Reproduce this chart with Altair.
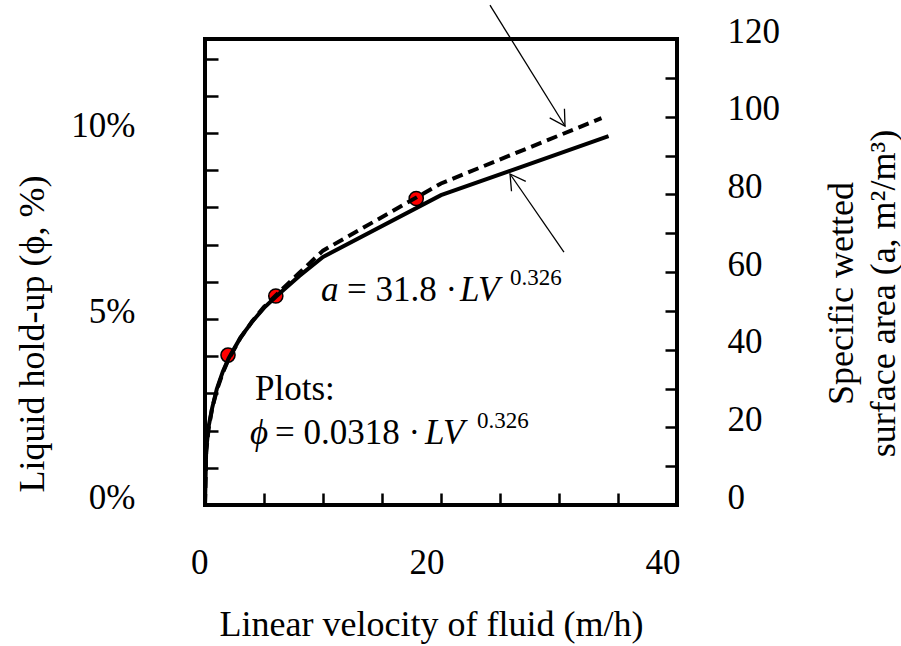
import altair as alt
import pandas as pd

# ---------------- data ----------------
# solid curve: liquid hold-up phi (%) vs linear velocity LV (m/h), left axis
lv_solid = [0, 0.1, 0.3, 0.6, 1, 1.5, 2, 3, 4, 5, 6, 8, 10, 20, 34.2]
phi_solid = [0, 1.48, 2.1, 2.6, 3.12, 3.58, 3.94, 4.5, 4.93, 5.3, 5.6, 6.16, 6.67, 8.33, 9.92]

# dashed curve: specific wetted surface area a (m2/m3), right axis
lv_dashed = [0, 0.1, 0.3, 0.6, 1, 1.5, 2, 3, 4, 5, 6, 8, 10, 20, 33.6]
a_dashed = [0, 13.5, 19.5, 24.8, 29.5, 34.0, 37.5, 43.0, 47.3, 51.0, 54.0, 59.8, 65.5, 82.8, 99.6]

# measured plots (red circles)
lv_plots = [1.95, 6.0, 17.9]
phi_plots = [4.03, 5.62, 8.24]

# tick values
x_ticks = [0, 5, 10, 15, 20, 25, 30, 35, 40]
phi_ticks = [0, 1, 2, 3, 4, 5, 6, 7, 8, 9, 10, 11, 12]
a_ticks = [0, 10, 20, 30, 40, 50, 60, 70, 80, 90, 100, 110, 120]

# annotations (data units: LV, phi %)
arrow_x = [24.15, 30.42]
arrow_y = [13.44, 6.80]
arrow_x2 = [30.51, 25.85]
arrow_y2 = [10.19, 8.90]
arrow_angle = [148, 325]

txt_italic = ["a", "LV", "\u03d5", "LV"]
txt_italic_x = [9.83, 21.6, 3.81, 18.64]
txt_italic_y = [5.484, 5.484, 1.64, 1.64]

txt_regular = ["= 31.8 \u00b7", "Plots:", "= 0.0318 \u00b7"]
txt_regular_x = [12.03, 4.24, 5.93]
txt_regular_y = [5.484, 2.823, 1.64]

txt_sup = ["0.326", "0.326"]
txt_sup_x = [25.85, 23.05]
txt_sup_y = [5.914, 2.07]

FONT = "Liberation Serif"

solid_df = pd.DataFrame({"lv": lv_solid, "phi": phi_solid})
dashed_df = pd.DataFrame({"lv": lv_dashed, "a": a_dashed})
plots_df = pd.DataFrame({"lv": lv_plots, "phi": phi_plots})
arrow_df = pd.DataFrame({"lv": arrow_x, "phi": arrow_y, "x2": arrow_x2, "y2": arrow_y2, "ang": arrow_angle})
tip_df = pd.DataFrame({"lv": arrow_x2, "phi": arrow_y2, "ang": arrow_angle})
ital_df = pd.DataFrame({"lv": txt_italic_x, "phi": txt_italic_y, "t": txt_italic})
reg_df = pd.DataFrame({"lv": txt_regular_x, "phi": txt_regular_y, "t": txt_regular})
sup_df = pd.DataFrame({"lv": txt_sup_x, "phi": txt_sup_y, "t": txt_sup})

x_scale = alt.Scale(domain=[0, 40], nice=False, zero=False)
phi_scale = alt.Scale(domain=[0, 12.53], nice=False, zero=False)
a_scale = alt.Scale(domain=[0, 120], nice=False, zero=False)

x_axis = alt.Axis(
    values=x_ticks, orient="bottom", offset=-12, tickSize=12,
    labelExpr="datum.value % 20 == 0 ? datum.label : ''",
    labelAlign="right", labelOffset=3, labelBaseline="alphabetic", labelPadding=68,
    title="Linear velocity of fluid (m/h)",
    titleX=226, titleY=142, titleAlign="center", titleBaseline="alphabetic",
)
phi_axis = alt.Axis(
    values=phi_ticks, orient="left", offset=-13, tickSize=13,
    labelExpr="datum.value % 5 == 0 ? datum.value + '%' : ''",
    labelAlign="right", labelPadding=70, labelBaseline="alphabetic", labelOffset=3,
    title="Liquid hold-up (\u03d5, %)",
    titleAngle=270, titleX=-175, titleY=294.5, titleAlign="center", titleBaseline="alphabetic",
)
a_axis = alt.Axis(
    values=a_ticks, orient="right", offset=-12, tickSize=12,
    labelExpr="datum.value % 20 == 0 ? datum.label : ''",
    labelAlign="left", labelPadding=50, labelBaseline="alphabetic", labelOffset=3,
    title=["Specific wetted", "surface area (a, m\u00b2/m\u00b3)"],
    titleAngle=270, titleX=187, titleY=254, titleAlign="center", titleBaseline="alphabetic",
    titleLineHeight=42,
)

X = alt.X("lv:Q", scale=x_scale, axis=x_axis)
Y = alt.Y("phi:Q", scale=phi_scale, axis=phi_axis)

points = alt.Chart(plots_df).mark_circle(
    size=200, color="#ff0000", stroke="black", strokeWidth=1.5, opacity=1
).encode(x=X, y=Y)

solid = alt.Chart(solid_df).mark_line(color="black", strokeWidth=4).encode(x=X, y=Y)

shafts = alt.Chart(arrow_df).mark_rule(color="black", strokeWidth=1.3).encode(
    x=X, y=Y, x2="x2", y2="y2"
)

heads = alt.Chart(tip_df).mark_point(
    shape="M -0.58 1 L 0 0 L 0.58 1", filled=False, size=900,
    color="black", strokeWidth=1.3, opacity=1
).encode(x=X, y=Y, angle=alt.Angle("ang:Q", scale=None))

italic_text = alt.Chart(ital_df).mark_text(
    font=FONT, fontSize=35, fontStyle="italic", align="left", baseline="alphabetic", color="black"
).encode(x=X, y=Y, text="t:N")

regular_text = alt.Chart(reg_df).mark_text(
    font=FONT, fontSize=35, align="left", baseline="alphabetic", color="black"
).encode(x=X, y=Y, text="t:N")

sup_text = alt.Chart(sup_df).mark_text(
    font=FONT, fontSize=23, align="left", baseline="alphabetic", color="black"
).encode(x=X, y=Y, text="t:N")

left = alt.layer(points, solid, shafts, heads, italic_text, regular_text, sup_text)

dashed = alt.Chart(dashed_df).mark_line(
    color="black", strokeWidth=4, strokeDash=[11, 6]
).encode(
    x=X,
    y=alt.Y("a:Q", scale=a_scale, axis=a_axis),
)

chart = alt.layer(left, dashed).resolve_scale(y="independent").properties(
    width=472, height=466,
    autosize=alt.AutoSizeParams(type="none"),
    padding={"left": 205, "top": 39, "right": 224, "bottom": 141},
    background="white",
).configure_view(
    stroke="black", strokeWidth=4
).configure_axis(
    grid=False, domain=False, tickColor="black", tickWidth=2.5,
    labelFont=FONT, labelFontSize=35, labelColor="black",
    labelOverlap=False, labelBound=False, labelFlush=False,
    titleFont=FONT, titleFontSize=36, titleFontWeight="normal", titleColor="black",
)

chart.save("out.html", embed_options={"renderer": "svg", "actions": False})
